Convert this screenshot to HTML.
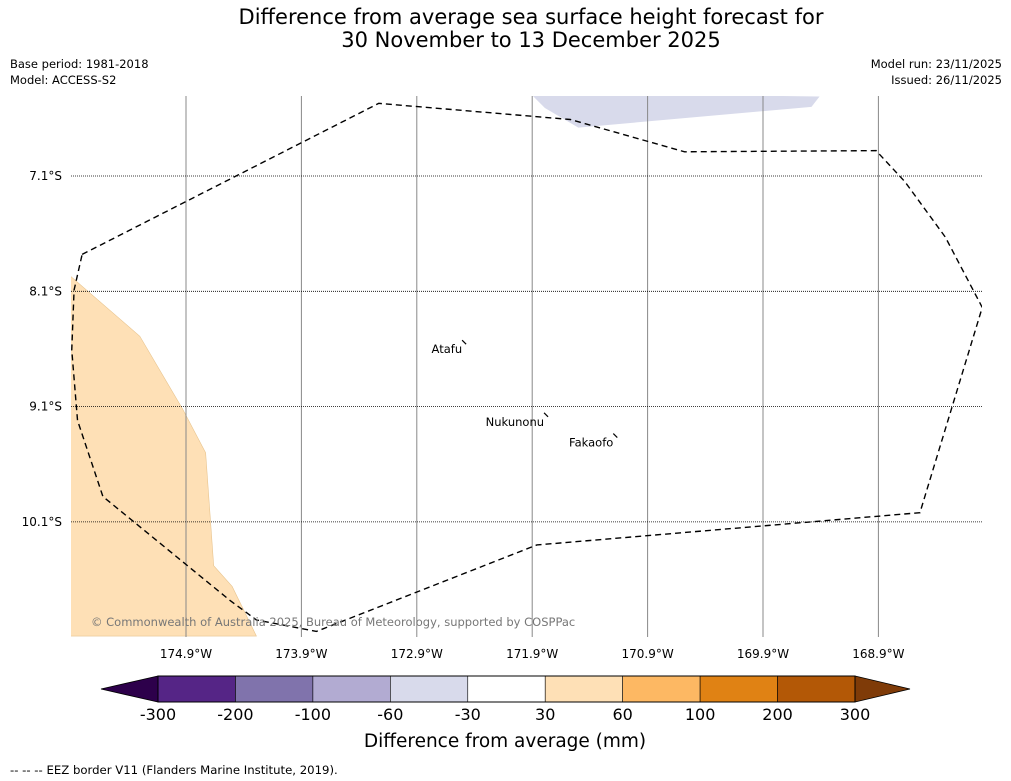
<!DOCTYPE html>
<html><head><meta charset="utf-8">
<style>
html,body{margin:0;padding:0;background:#fff;}
svg{display:block;font-family:"DejaVu Sans","Liberation Sans",sans-serif;}
</style></head>
<body>
<svg id="chart" width="1011" height="781" viewBox="0 0 1011 781" xmlns="http://www.w3.org/2000/svg">
<text x="531" y="24" font-size="21" text-anchor="middle">Difference from average sea surface height forecast for</text>
<text x="531" y="47" font-size="21" text-anchor="middle">30 November to 13 December 2025</text>
<text x="10" y="68" font-size="11.5">Base period: 1981-2018</text>
<text x="10" y="84" font-size="11.5">Model: ACCESS-S2</text>
<text x="1002" y="68" font-size="11.5" text-anchor="end">Model run: 23/11/2025</text>
<text x="1002" y="84" font-size="11.5" text-anchor="end">Issued: 26/11/2025</text>
<g id="map"></g>
<g id="cbar"></g>
<text x="505" y="747" font-size="18.5" text-anchor="middle">Difference from average (mm)</text>
<text x="10" y="774" font-size="11.7">--  --  -- EEZ border V11 (Flanders Marine Institute, 2019).</text>
</svg>
<script>
const lonTicks=[-174.9,-173.9,-172.9,-171.9,-170.9,-169.9,-168.9];
const latTicks=[-7.1,-8.1,-9.1,-10.1];
const eezLon=[-175.80,-173.23,-171.57,-170.58,-168.92,-168.67,-168.32,-168.00,-168.54,-171.86,-173.77,-174.29,-174.52,-175.62,-175.84,-175.89,-175.87,-175.80];
const eezLat=[-7.78,-6.47,-6.61,-6.89,-6.88,-7.15,-7.63,-8.24,-10.02,-10.30,-11.05,-10.95,-10.78,-9.88,-9.22,-8.61,-8.09,-7.78];
const posLon=[-175.9,-175.3,-174.93,-174.73,-174.66,-174.50,-174.29,-175.9];
const posLat=[-7.97,-8.49,-9.12,-9.50,-10.48,-10.66,-11.09,-11.09];
const negLon=[-171.92,-171.79,-171.50,-169.48,-169.41];
const negLat=[-6.38,-6.51,-6.68,-6.50,-6.41];
const places=["Atafu","Nukunonu","Fakaofo"];
const placeLon=[-172.49,-171.78,-171.18];
const placeLat=[-8.55,-9.18,-9.36];
const cbBounds=["-300","-200","-100","-60","-30","30","60","100","200","300"];
const cbColors=["#552586","#8073ac","#b2abd2","#d8daeb","#ffffff","#fee0b6","#fdb863","#e08214","#b35806"];
const cbUnder="#2d004b", cbOver="#7f3b08";
const NS="http://www.w3.org/2000/svg";
const X0=71,X1=982,Y0=96,Y1=637;
const xs=lon=>186+(lon+174.9)*115.4;
const ys=lat=>176+(-7.1-lat)*115.3;
function mk(tag,attrs,parent){const e=document.createElementNS(NS,tag);for(const k in attrs)e.setAttribute(k,attrs[k]);parent.appendChild(e);return e;}
const map=document.getElementById('map');
const defs=mk('defs',{},map);
const cp=mk('clipPath',{id:'clip'},defs);
mk('rect',{x:X0,y:Y0,width:X1-X0,height:Y1-Y0},cp);
const inner=mk('g',{'clip-path':'url(#clip)'},map);
const pos=mk('polygon',{points:posLon.map((l,i)=>xs(l)+','+ys(posLat[i])).join(' '),fill:'#fee0b6',stroke:'#e8c48e','stroke-width':0.6},inner);


const neg=mk('polygon',{points:negLon.map((l,i)=>xs(l)+','+ys(negLat[i])).join(' '),fill:'#d8daeb'},inner);


lonTicks.forEach(l=>{
 const ln=mk('line',{x1:xs(l),x2:xs(l),y1:Y0,y2:Y1,stroke:'#888','stroke-width':1},inner);
 
 
 const t=mk('text',{x:xs(l),y:658,'font-size':12,'text-anchor':'middle'},map);
 t.textContent=Math.abs(l).toFixed(1)+'°W';
 
 
});
latTicks.forEach(l=>{
 const ln=mk('line',{x1:X0,x2:X1,y1:ys(l),y2:ys(l),stroke:'#000','stroke-width':0.8,'stroke-dasharray':'1,1'},inner);
 
 
 const t=mk('text',{x:62,y:ys(l)+4,'font-size':12,'text-anchor':'end'},map);
 t.textContent=Math.abs(l).toFixed(1)+'°S';
 
 
});
const eez=mk('polyline',{points:eezLon.map((l,i)=>xs(l)+','+ys(eezLat[i])).join(' '),fill:'none',stroke:'#000','stroke-width':1.4,'stroke-dasharray':'6,4'},inner);


places.forEach((p,i)=>{
 const x=xs(placeLon[i]),y=ys(placeLat[i]);
 const m=mk('line',{x1:x-2,y1:y-3,x2:x+2,y2:y+1,stroke:'#000','stroke-width':1.2},inner);
 
 
 const t=mk('text',{x:x-2,y:y+10,'font-size':11.5,'text-anchor':'end'},map);
 t.textContent=p;
 
 
});
const cr=mk('text',{x:91,y:626,'font-size':11.5,fill:'#777'},map);
cr.textContent='© Commonwealth of Australia 2025, Bureau of Meteorology, supported by COSPPac';


const cb=document.getElementById('cbar');
const CB0=158,CB1=855,CT=676,CBt=702,CM=689;
const n=cbColors.length,w=(CB1-CB0)/n;
const ul=mk('polygon',{points:`${CB0},${CT} ${CB0},${CBt} 101,${CM}`,fill:cbUnder,stroke:'#000','stroke-width':0.8},cb);


const ol=mk('polygon',{points:`${CB1},${CT} ${CB1},${CBt} 910,${CM}`,fill:cbOver,stroke:'#000','stroke-width':0.8},cb);


cbColors.forEach((c,i)=>{
 const r=mk('rect',{x:CB0+i*w,y:CT,width:w,height:CBt-CT,fill:c,stroke:'#000','stroke-width':0.6},cb);
 
 
});
mk('rect',{x:CB0,y:CT,width:CB1-CB0,height:CBt-CT,fill:'none',stroke:'#000','stroke-width':1},cb);
cbBounds.forEach((b,i)=>{
 const t=mk('text',{x:CB0+i*w,y:720,'font-size':16,'text-anchor':'middle'},cb);
 t.textContent=b;
 
 
});
</script>
</body></html>
